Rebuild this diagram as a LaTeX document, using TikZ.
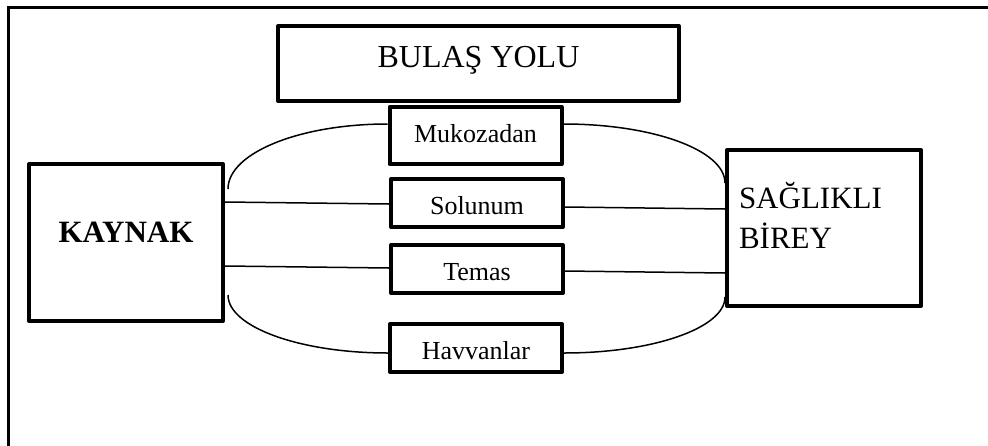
\documentclass[tikz,border=0pt]{standalone}
\usepackage{fontspec}
\setmainfont{Liberation Serif}
\usepackage{tikz}
\usetikzlibrary{positioning}
\pgfkeys{tikz/yolbox/.style={draw,line width=4pt,inner sep=0pt,line join=round}}
\pgfkeys{tikz/yolsmall/.style={yolbox,minimum width=172pt,text height=35pt,text depth=13pt,font=\fontsize{26}{30}\selectfont}}
\pgfkeys{tikz/yolline/.style={line width=1.5pt}}

\begin{document}
\begin{tikzpicture}[x=1pt,y=-1pt]
	\useasboundingbox (0,0) rectangle (988,445);
	\draw[line width=3pt] (8,450) -- (8,7) -- (995,7);

	\node[yolbox,minimum width=401pt,text height=41pt,text depth=34pt,font=\fontsize{32}{36}\selectfont] (bulas) at (478.5,63.5) {BULAŞ YOLU};
	\node[yolbox,minimum width=194pt,text height=78pt,text depth=79pt,font=\fontsize{31}{36}\selectfont\bfseries] (kaynak) at (126,242.5) {KAYNAK};
	\node[yolbox,align=left,text width=170pt,inner xsep=12pt,text height=58pt,text depth=98pt,font=\fontsize{31}{40}\selectfont] (saglikli) at (824,228) {SAĞLIKLI\\BİREY};

	\node[yolsmall,text depth=22pt] (muk) at (475.5,135.5) {Mukozadan};
	\node[yolsmall] (sol) at (477,203) {Solunum};
	\node[yolsmall] (tem) at (477,269) {Temas};
	\node[yolsmall] (hay) at (476,348) {Havvanlar};

	\draw[yolline] ([yshift=40.5pt]kaynak.east) -- ([yshift=-1pt]sol.west);
	\draw[yolline] ([yshift=-4pt]sol.east) -- ([yshift=19pt]saglikli.west);
	\draw[yolline] ([yshift=-23.5pt]kaynak.east) -- ([yshift=1pt]tem.west);
	\draw[yolline] ([yshift=-2pt]tem.east) -- ([yshift=-45pt]saglikli.west);

	\draw[yolline] ([xshift=3pt,yshift=53.5pt]kaynak.east) .. controls +(0,-36) and +(-88,0) .. ([yshift=11.5pt]muk.west);
	\draw[yolline] ([yshift=11.5pt]muk.east) .. controls +(89,0) and +(0,-33) .. ([yshift=45pt]saglikli.west);
	\draw[yolline] ([xshift=3pt,yshift=-52.5pt]kaynak.east) .. controls +(0,32) and +(-88,0) .. ([yshift=-5pt]hay.west);
	\draw[yolline] ([yshift=-5pt]hay.east) .. controls +(89,0) and +(0,31) .. ([yshift=-69pt]saglikli.west);
\end{tikzpicture}
\end{document}
